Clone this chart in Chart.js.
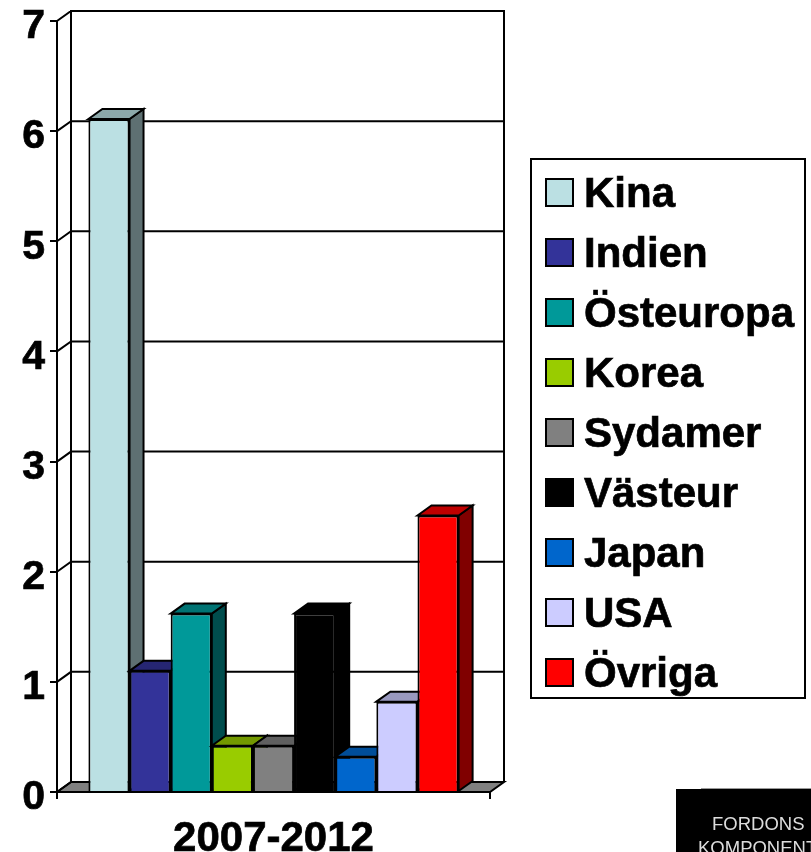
<!DOCTYPE html>
<html>
<head>
<meta charset="utf-8">
<title>2007-2012</title>
<script src="https://cdn.jsdelivr.net/npm/chart.js@4"></script>
<style>
  html, body { margin: 0; padding: 0; background: #fff; overflow: hidden; }
  canvas { display: block; }
</style>
</head>
<body>
<canvas id="chart" width="811" height="852"></canvas>
<script>
const categories = ['2007-2012'];
const seriesNames = ['Kina', 'Indien', 'Östeuropa', 'Korea', 'Sydamer', 'Västeur', 'Japan', 'USA', 'Övriga'];
const seriesValues = [6.11, 1.1, 1.62, 0.42, 0.42, 1.62, 0.32, 0.82, 2.51];
const seriesColors = ['#BBE0E3', '#333399', '#009999', '#99CC00', '#808080', '#000000', '#0066CC', '#CCCCFF', '#FF0000'];

const DEPTH_X = 14;
const DEPTH_Y = 10;
const FONT = '"Liberation Sans", Arial, sans-serif';

function shade(hex, f) {
    const n = parseInt(hex.slice(1), 16);
    const c = [n >> 16, (n >> 8) & 255, n & 255].map(v => Math.round(v * f));
    return `rgb(${c[0]},${c[1]},${c[2]})`;
}

function poly(ctx, pts, fill) {
    ctx.beginPath();
    pts.forEach((p, i) => i ? ctx.lineTo(p[0], p[1]) : ctx.moveTo(p[0], p[1]));
    ctx.closePath();
    if (fill) { ctx.fillStyle = fill; ctx.fill(); }
    ctx.stroke();
}

// back wall, floor, grid lines on the wall, then the 3D bars left to right
const wallPlugin = {
    id: 'wall',
    beforeDraw(chart) {
        // tick numbers sit a little below their tick marks
        chart.scales.y.getLabelItems().forEach(item => { item.textOffset = 6; });
    },
    beforeDatasetsDraw(chart) {
        const { ctx, chartArea: a, scales: { y } } = chart;
        ctx.save();
        ctx.strokeStyle = '#000';
        ctx.lineWidth = 2;
        poly(ctx, [[a.left, a.bottom], [a.left + DEPTH_X, a.bottom - DEPTH_Y],
                   [a.right + DEPTH_X, a.bottom - DEPTH_Y], [a.right, a.bottom]], '#808080');
        ctx.beginPath();
        ctx.moveTo(a.left + DEPTH_X, a.bottom - DEPTH_Y);
        ctx.lineTo(a.left + DEPTH_X, a.top - DEPTH_Y);
        ctx.lineTo(a.right + DEPTH_X, a.top - DEPTH_Y);
        ctx.lineTo(a.right + DEPTH_X, a.bottom - DEPTH_Y);
        y.ticks.forEach(t => {
            const py = y.getPixelForValue(t.value);
            ctx.moveTo(a.left, py);
            ctx.lineTo(a.left + DEPTH_X, py - DEPTH_Y);
            if (t.value > 0) ctx.lineTo(a.right + DEPTH_X, py - DEPTH_Y);
        });
        ctx.stroke();

        chart.data.datasets.forEach((ds, i) => {
            const bar = chart.getDatasetMeta(i).data[0];
            const l = bar.x - bar.width / 2;
            const r = bar.x + bar.width / 2;
            poly(ctx, [[r, bar.base], [r + DEPTH_X, bar.base - DEPTH_Y],
                       [r + DEPTH_X, bar.y - DEPTH_Y], [r, bar.y]], shade(ds.backgroundColor, 0.5));
            poly(ctx, [[l, bar.y], [l + DEPTH_X, bar.y - DEPTH_Y],
                       [r + DEPTH_X, bar.y - DEPTH_Y], [r, bar.y]], shade(ds.backgroundColor, 0.75));
            bar.draw(ctx);
        });
        ctx.restore();
    },
    // the bars are already painted above, in the order the 3D look needs
    beforeDatasetDraw() {
        return false;
    }
};

// legend box on the right and the logo corner
const sidePlugin = {
    id: 'side',
    afterDraw(chart) {
        const { ctx } = chart;
        ctx.save();
        ctx.strokeStyle = '#000';
        ctx.lineWidth = 2;
        ctx.fillStyle = '#fff';
        ctx.fillRect(531, 159, 274, 539);
        ctx.strokeRect(531, 159, 274, 539);

        ctx.textBaseline = 'middle';
        ctx.textAlign = 'left';
        ctx.font = `bold 42px ${FONT}`;
        chart.data.datasets.forEach((ds, i) => {
            const cy = 193 + i * 60;
            ctx.lineWidth = 2;
            ctx.fillStyle = ds.backgroundColor;
            ctx.fillRect(546, cy - 14, 27, 27);
            ctx.strokeRect(546, cy - 14, 27, 27);
            ctx.fillStyle = '#000';
            ctx.lineWidth = 0.7;
            ctx.fillText(ds.label, 584, cy + 2);
            ctx.strokeText(ds.label, 584, cy + 2);
        });

        ctx.fillStyle = '#000';
        ctx.fillRect(676, 789, 135, 63);
        ctx.fillStyle = '#999';
        ctx.fillRect(701, 788, 110, 1);
        ctx.fillStyle = '#ddd';
        ctx.font = `18.5px ${FONT}`;
        ctx.fillText('FORDONS', 712, 825);
        ctx.fillText('KOMPONENTER', 698, 849);
        ctx.restore();
    }
};

new Chart(document.getElementById('chart'), {
    type: 'bar',
    data: {
        labels: categories,
        datasets: seriesNames.map((name, i) => ({
            label: name,
            data: [seriesValues[i]],
            backgroundColor: seriesColors[i],
            borderColor: '#000',
            borderWidth: 2,
            categoryPercentage: 0.855,
            barPercentage: 1
        }))
    },
    options: {
        responsive: false,
        animation: false,
        layout: { padding: { top: 21, right: 321, left: 0, bottom: 0 } },
        plugins: { legend: { display: false }, tooltip: { enabled: false }, title: { display: false } },
        scales: {
            x: {
                afterFit(s) { s.height = 60; },
                border: { color: '#000', width: 2 },
                grid: { display: true, drawOnChartArea: false, color: '#000', lineWidth: 2, tickLength: 7 },
                ticks: { color: '#000', padding: 15, maxRotation: 0, textStrokeColor: '#000', textStrokeWidth: 0.7, font: { family: FONT, size: 42, weight: 'bold' } }
            },
            y: {
                min: 0,
                max: 7,
                afterFit(s) { s.width = 57; s.paddingTop = 0; s.paddingBottom = 0; },
                border: { color: '#000', width: 2 },
                grid: { drawOnChartArea: false, color: '#000', lineWidth: 2, tickLength: 7 },
                ticks: { stepSize: 1, color: '#000', padding: 5, textStrokeColor: '#000', textStrokeWidth: 0.7, font: { family: FONT, size: 41, weight: 'bold' } }
            }
        }
    },
    plugins: [wallPlugin, sidePlugin]
});
</script>
</body>
</html>
